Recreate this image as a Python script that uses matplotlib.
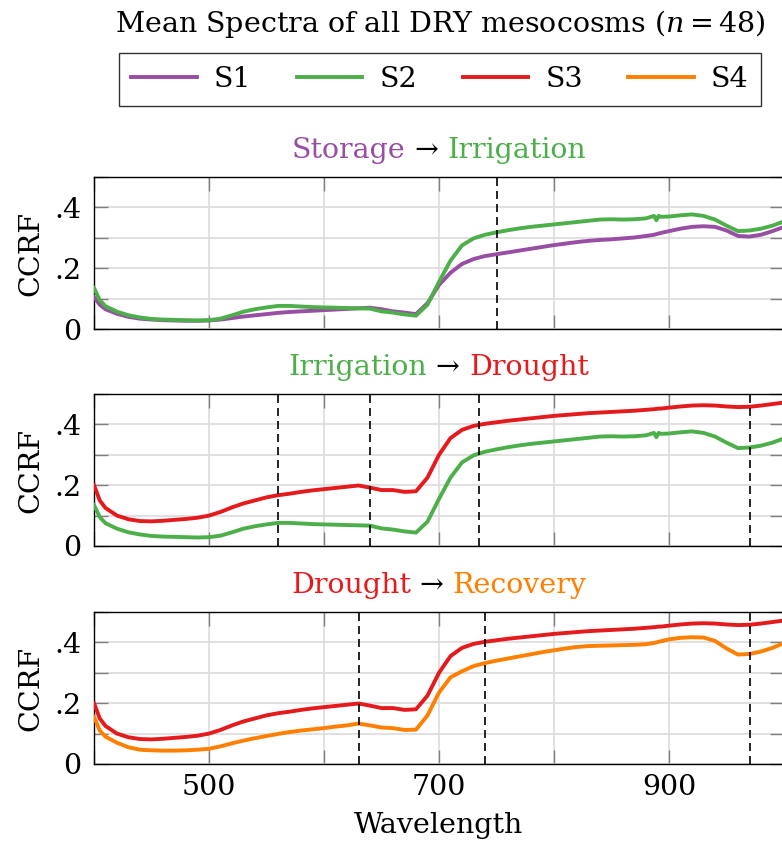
import matplotlib
matplotlib.use("Agg")
import matplotlib.pyplot as plt
from matplotlib.lines import Line2D
from matplotlib.ticker import FuncFormatter, MultipleLocator

plt.rcParams['font.family'] = ['DejaVu Serif']
plt.rcParams['mathtext.fontset'] = 'dejavuserif'

# wavelengths (nm) shared by all mean spectra
wavelength = [400, 405, 410, 420, 430, 440, 450, 460, 470, 480, 490, 500,
              510, 520, 530, 540, 550, 560, 570, 580, 590, 600, 610, 620,
              630, 640, 650, 660, 670, 680, 690, 700, 710, 720, 730, 740,
              750, 760, 770, 780, 790, 800, 810, 820, 830, 840, 850, 860,
              870, 880, 887, 889, 891, 893, 900, 910, 920, 930, 940, 950,
              960, 970, 980, 990, 1000]

# mean CCRF per stage
s1 = [0.105, 0.080, 0.065, 0.050, 0.040, 0.034, 0.031, 0.029, 0.028, 0.027, 0.027, 0.028,
      0.031, 0.036, 0.041, 0.045, 0.049, 0.053, 0.056, 0.058, 0.060, 0.062, 0.064, 0.066,
      0.068, 0.070, 0.065, 0.058, 0.054, 0.049, 0.085, 0.145, 0.185, 0.214, 0.230, 0.240,
      0.246, 0.252, 0.258, 0.264, 0.270, 0.276, 0.281, 0.286, 0.290, 0.293, 0.295, 0.298,
      0.301, 0.306, 0.310, 0.312, 0.314, 0.316, 0.322, 0.330, 0.336, 0.338, 0.336, 0.324,
      0.306, 0.304, 0.310, 0.322, 0.336]
s2 = [0.135, 0.095, 0.075, 0.057, 0.045, 0.038, 0.033, 0.031, 0.030, 0.029, 0.028, 0.029,
      0.034, 0.045, 0.057, 0.065, 0.071, 0.076, 0.076, 0.074, 0.072, 0.071, 0.070, 0.069,
      0.068, 0.067, 0.058, 0.054, 0.048, 0.044, 0.080, 0.155, 0.225, 0.275, 0.298, 0.310,
      0.318, 0.325, 0.331, 0.336, 0.340, 0.344, 0.348, 0.352, 0.356, 0.360, 0.361, 0.360,
      0.361, 0.364, 0.372, 0.358, 0.372, 0.369, 0.370, 0.374, 0.377, 0.372, 0.360, 0.340,
      0.322, 0.324, 0.330, 0.340, 0.354]
s3 = [0.200, 0.150, 0.125, 0.100, 0.088, 0.082, 0.081, 0.083, 0.086, 0.089, 0.093, 0.100,
      0.112, 0.127, 0.140, 0.150, 0.160, 0.167, 0.172, 0.178, 0.183, 0.187, 0.191, 0.195,
      0.199, 0.192, 0.184, 0.184, 0.178, 0.180, 0.225, 0.300, 0.355, 0.382, 0.395, 0.402,
      0.407, 0.412, 0.416, 0.420, 0.424, 0.428, 0.431, 0.434, 0.437, 0.439, 0.441, 0.443,
      0.445, 0.448, 0.450, 0.451, 0.452, 0.452, 0.455, 0.459, 0.462, 0.463, 0.462, 0.459,
      0.457, 0.458, 0.462, 0.467, 0.472]
s4 = [0.155, 0.110, 0.090, 0.070, 0.055, 0.047, 0.045, 0.044, 0.044, 0.045, 0.047, 0.050,
      0.058, 0.068, 0.077, 0.085, 0.092, 0.099, 0.105, 0.110, 0.114, 0.118, 0.123, 0.127,
      0.133, 0.127, 0.120, 0.118, 0.112, 0.113, 0.160, 0.235, 0.285, 0.305, 0.322, 0.332,
      0.340, 0.347, 0.354, 0.361, 0.368, 0.374, 0.380, 0.385, 0.388, 0.389, 0.390, 0.391,
      0.392, 0.394, 0.398, 0.400, 0.402, 0.404, 0.410, 0.415, 0.417, 0.416, 0.405, 0.380,
      0.360, 0.362, 0.370, 0.382, 0.398]

stages = ['S1', 'S2', 'S3', 'S4']
stage_names = ['Storage', 'Irrigation', 'Drought', 'Recovery']
spectra = [s1, s2, s3, s4]
colors = ['#984ea3', '#4daf4a', '#e41a1c', '#ff7f00']

# dashed markers per transition
transitions = [(0, 1), (1, 2), (2, 3)]
marks = [[750], [560, 640, 735, 970], [630, 740, 970]]

W, H = 782, 844
FS = 20.5
LW = 2.8
fig = plt.figure(figsize=(W / 100, H / 100), dpi=100)

ax_left = 94 / W
ax_width = 690 / W
ax_h = 152 / H
tops = [177, 394, 612]

def yfmt(v, p):
    if round(v * 10) % 2:
        return ''
    if abs(v) < 1e-9:
        return '0'
    return ('%.1f' % v)[1:]

def xfmt(v, p):
    return '%d' % v if int(round(v)) in (500, 700, 900) else ''

axes = []
for k, (a, b) in enumerate(transitions):
    ax = fig.add_axes([ax_left, 1 - (tops[k] + 152) / H, ax_width, ax_h])
    ax.plot(wavelength, spectra[a], color=colors[a], lw=LW, zorder=3)
    ax.plot(wavelength, spectra[b], color=colors[b], lw=LW, zorder=3)
    for m in marks[k]:
        ax.axvline(m, color='black', lw=1.2, dashes=(4.8, 3.0), zorder=4)
    ax.set_xlim(400, 1000)
    ax.set_ylim(0, 0.5)
    ax.xaxis.set_major_locator(MultipleLocator(100))
    ax.yaxis.set_major_locator(MultipleLocator(0.1))
    ax.grid(True, color='#dcdcdc', lw=1.2, zorder=0)
    ax.tick_params(direction='in', length=10, width=1.0, color='#7f7f7f',
                   top=True, right=True, labelsize=FS, pad=9)
    ax.yaxis.set_major_formatter(FuncFormatter(yfmt))
    if k == 2:
        ax.xaxis.set_major_formatter(FuncFormatter(xfmt))
        ax.tick_params(axis='x', pad=7)
    else:
        ax.set_xticklabels([])
    ax.set_ylabel('CCRF', fontsize=FS)
    ax.yaxis.set_label_coords(-0.072, 0.5)
    for s in ax.spines.values():
        s.set_linewidth(1.0)
    axes.append(ax)

fig.text(438 / W, 1 - 833 / H, 'Wavelength', fontsize=FS, ha='center', va='baseline')

# colored panel headings
renderer = fig.canvas.get_renderer()
def colored_heading(y_px, parts):
    texts = [fig.text(0, 1 - y_px / H, s, color=c, fontsize=FS, va='baseline')
             for s, c in parts]
    widths = [t.get_window_extent(renderer).width for t in texts]
    x = 439 - sum(widths) / 2
    for t, w in zip(texts, widths):
        t.set_x(x / W)
        x += w

for k, (a, b) in enumerate(transitions):
    colored_heading(tops[k] - 19, [(stage_names[a], colors[a]), (' \u2192 ', 'black'),
                                   (stage_names[b], colors[b])])

fig.text(440 / W, 1 - 32 / H, r'Mean Spectra of all DRY mesocosms ($n = 48$)',
         fontsize=FS, ha='center', va='baseline')

handles = [Line2D([], [], color=c, lw=LW) for c in colors]
leg = fig.legend(handles, stages, loc='center', bbox_to_anchor=(440 / W, 1 - 79.5 / H),
                 ncol=4, frameon=True, fancybox=False, edgecolor='black', fontsize=FS,
                 handlelength=2.3, columnspacing=1.6, handletextpad=0.6, borderpad=0.45,
                 borderaxespad=0)
leg.get_frame().set_linewidth(1.0)

fig.savefig('out.png', dpi=100)
